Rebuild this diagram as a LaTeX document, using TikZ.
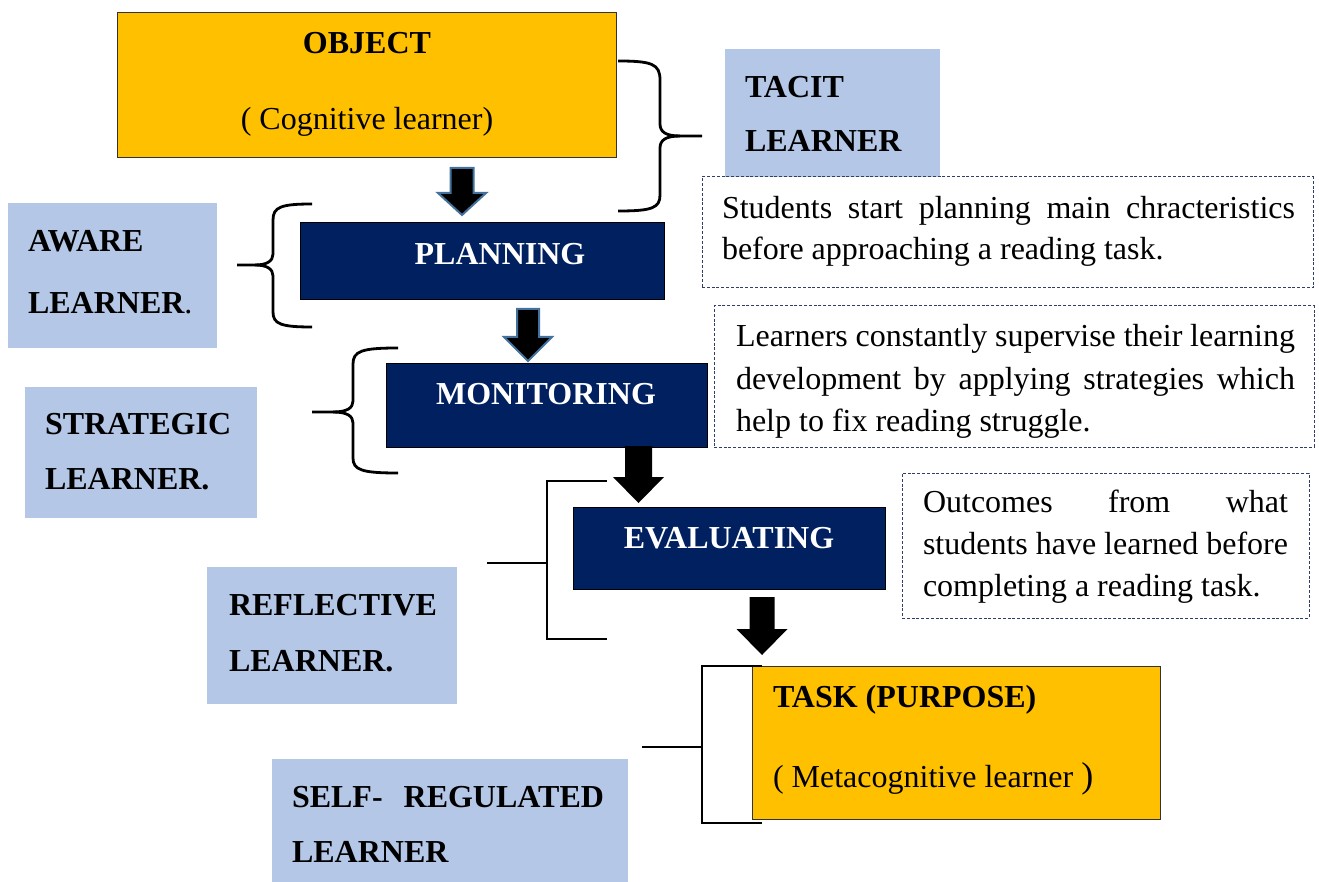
\documentclass[tikz,border=0pt]{standalone}
\usepackage{fontspec}
\setmainfont{Liberation Serif}
\usetikzlibrary{calc}

\definecolor{objyellow}{HTML}{FFC000}
\definecolor{learnerblue}{HTML}{B4C7E7}
\definecolor{stepnavy}{HTML}{002060}
\definecolor{arrowedge}{HTML}{41719C}
\definecolor{noteline}{HTML}{2F3F6A}

% block arrow pointing down: style, centre x, top y, head y, tip y, half shaft, half head
\newcommand{\downblock}[7]{%
  \path[#1] (#2-#6,#3) -- (#2+#6,#3) -- (#2+#6,#4) -- (#2+#7,#4) -- (#2,#5)
    -- (#2-#7,#4) -- (#2-#6,#4) -- cycle;}

\begin{document}
\begin{tikzpicture}[x=1pt,y=-1pt,
  font=\fontsize{32}{40}\selectfont,
  yellowbox/.style={draw=black!80, line width=1pt, fill=objyellow, anchor=north west, inner sep=0pt, outer sep=0pt},
  bluebox/.style={fill=learnerblue, anchor=north west, inner sep=0pt, outer sep=0pt},
  navybox/.style={draw=black, line width=1pt, fill=stepnavy, anchor=north west, inner sep=0pt, outer sep=0pt},
  notebox/.style={draw=noteline, line width=1pt, dash pattern=on 3pt off 1.8pt, anchor=north west, inner sep=0pt, outer sep=0pt},
  txt/.style={anchor=base west, inner sep=0pt, outer sep=0pt},
  headtxt/.style={txt, font=\fontsize{32}{40}\selectfont\bfseries},
  steptxt/.style={anchor=base, inner sep=0pt, text=white, font=\fontsize{32}{40}\selectfont\bfseries},
  curlybrace/.style={draw=black, line width=2.8pt},
  sqbracket/.style={draw=black, line width=2.5pt},
  edgedarrow/.style={fill=black, draw=arrowedge, line width=2pt, line join=miter},
  solidarrow/.style={fill=black},
]
\useasboundingbox (0,0) rectangle (1319,882);

% ---------- boxes ----------
\node[yellowbox, minimum width=499pt, minimum height=145pt] (object) at (117,13) {};
\node[bluebox, minimum width=215pt, minimum height=128pt] (tacit) at (725,49) {};
\node[notebox, minimum width=611pt, minimum height=111pt] (note1) at (702,177) {};
\node[navybox, minimum width=364pt, minimum height=77pt] (planning) at (300,223) {};
\node[bluebox, minimum width=209pt, minimum height=145pt] (aware) at (8,203) {};
\node[notebox, minimum width=600pt, minimum height=141pt] (note2) at (714,306) {};
\node[navybox, minimum width=321pt, minimum height=84pt] (monitoring) at (386,363) {};
\node[bluebox, minimum width=232pt, minimum height=131pt] (strategic) at (25,387) {};
\node[navybox, minimum width=312pt, minimum height=82pt] (evaluating) at (573,507) {};
\node[notebox, minimum width=407pt, minimum height=145pt] (note3) at (902,473) {};
\node[bluebox, minimum width=250pt, minimum height=137pt] (reflective) at (207,567) {};
\node[yellowbox, minimum width=408pt, minimum height=153pt] (task) at (752,666) {};
\node[bluebox, minimum width=356pt, minimum height=124pt] (selfreg) at (272,759) {};

% ---------- texts ----------
\node[headtxt, anchor=base] (objhead) at (367,54) {OBJECT};
\node[txt, anchor=base] (objsub) at (367,130) {( Cognitive learner)};

\node[headtxt] (tacit1) at (745,98) {TACIT};
\node[headtxt] (tacit2) at (745,152) {LEARNER};

\node[steptxt] (plantxt) at (500,265) {PLANNING};
\node[steptxt] (montxt) at (546,404) {MONITORING};
\node[steptxt] (evaltxt) at (729,548) {EVALUATING};

\node[headtxt] (aware1) at (28,252) {AWARE};
\node[txt] (aware2) at (28,314) {\textbf{LEARNER}.};

\node[headtxt] (strat1) at (45,434) {STRATEGIC};
\node[headtxt] (strat2) at (45,489) {LEARNER.};

\node[headtxt] (refl1) at (229,615) {REFLECTIVE};
\node[headtxt] (refl2) at (229,671) {LEARNER.};

\node[headtxt] (self1) at (292,807) {\makebox[312pt][s]{SELF- REGULATED}};
\node[headtxt] (self2) at (292,862) {LEARNER};

\node[headtxt] (taskhead) at (773,707) {TASK (PURPOSE)};
\node[txt] (tasksub) at (773,787) {( Metacognitive learner {\fontsize{36}{40}\selectfont)}};

\node[txt] (n1a) at (722,219) {\makebox[573pt][s]{Students start planning main chracteristics}};
\node[txt] (n1b) at (722,260) {before approaching a reading task.};

\node[txt] (n2a) at (736,347) {\makebox[559pt][s]{Learners constantly supervise their learning}};
\node[txt] (n2b) at (736,389) {\makebox[559pt][s]{development by applying strategies which}};
\node[txt] (n2c) at (736,431) {help to fix reading struggle.};

\node[txt] (n3a) at (923,512) {\makebox[365pt][s]{Outcomes from what}};
\node[txt] (n3b) at (923,554) {\makebox[365pt][s]{students have learned before}};
\node[txt] (n3c) at (923,596) {completing a reading task.};

% ---------- block arrows between the stages ----------
\downblock{edgedarrow}{462}{168}{193}{215}{11.5}{24}
\downblock{edgedarrow}{528}{309}{337}{361}{11}{24}
\downblock{solidarrow}{638.5}{446}{477}{503}{13.5}{25.5}
\downblock{solidarrow}{762}{597}{629}{655}{12.5}{25.5}

% ---------- curly braces ----------
\draw[curlybrace] (618,61) .. controls (652,61) and (660,64) .. (660,80) -- (660,124)
  .. controls (660,132) and (666,136) .. (680,136) -- (702,136);
\draw[curlybrace] (680,136) .. controls (666,136) and (660,140) .. (660,148) -- (660,195)
  .. controls (660,208) and (652,211) .. (618,211);

\draw[curlybrace] (312,204) .. controls (281,204) and (273,207) .. (273,220) -- (273,254)
  .. controls (273,261) and (267,265) .. (255,265) -- (237,265);
\draw[curlybrace] (255,265) .. controls (267,265) and (273,269) .. (273,276) -- (273,312)
  .. controls (273,324) and (281,327) .. (312,327);

\draw[curlybrace] (398,348) .. controls (362,348) and (353,351) .. (353,364) -- (353,401)
  .. controls (353,408) and (347,412) .. (333,412) -- (312,412);
\draw[curlybrace] (333,412) .. controls (347,412) and (353,416) .. (353,423) -- (353,458)
  .. controls (353,470) and (362,473) .. (398,473);

% ---------- square brackets ----------
\coordinate (evalstem) at (487,563);
\draw[sqbracket] (607,481) -- (547,481) -- (547,639) -- (607,639);
\draw[sqbracket] (evalstem) -- (547,563);

\coordinate (taskstem) at (642,747);
\draw[sqbracket] (762,666) -- (702,666) -- (702,823) -- (762,823);
\draw[sqbracket] (taskstem) -- (702,747);
\end{tikzpicture}
\end{document}
